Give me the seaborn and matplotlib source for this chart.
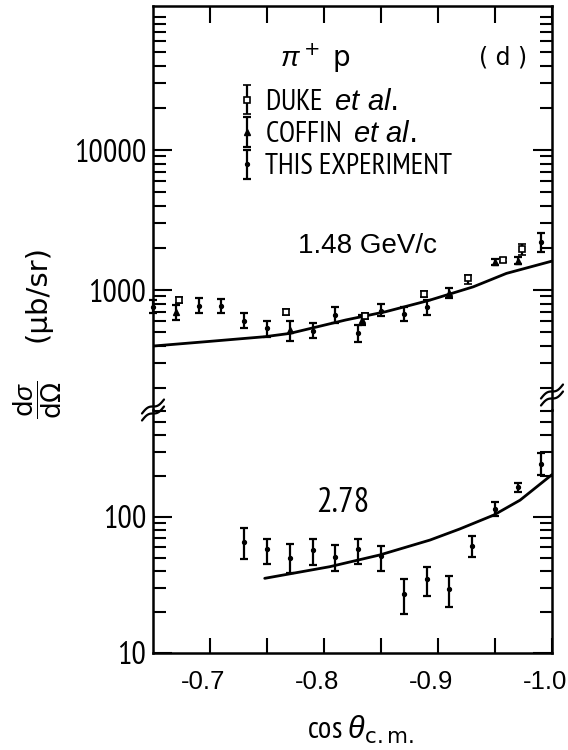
import numpy as np
import pandas as pd
import matplotlib
matplotlib.use("Agg")
import matplotlib.pyplot as plt
import matplotlib.transforms as mtransforms
import seaborn as sns
from matplotlib.lines import Line2D
from matplotlib.ticker import LogLocator, NullFormatter, FixedLocator
from matplotlib.font_manager import FontProperties

# ---- 1.48 GeV/c ----
cos_148_this = [-0.65, -0.69, -0.71, -0.73, -0.75, -0.79, -0.81, -0.83, -0.85, -0.87, -0.89, -0.99]
xs_148_this = [760, 772, 770, 604, 533, 512, 663, 493, 711, 674, 752, 2190]
lo_148_this = [685, 685, 685, 535, 464, 452, 578, 427, 650, 603, 663, 1885]
hi_148_this = [848, 877, 870, 685, 600, 578, 760, 563, 790, 752, 848, 2540]

cos_148_coffin = [-0.67, -0.77, -0.833, -0.91, -0.95, -0.97]
xs_148_coffin = [693, 518, 610, 947, 1590, 1620]
lo_148_coffin = [611, 432, 565, 872, 1510, 1540]
hi_148_coffin = [781, 600, 660, 1033, 1680, 1710]

cos_148_duke = [-0.673, -0.767, -0.836, -0.888, -0.926, -0.957, -0.974]
xs_148_duke = [848, 696, 650, 936, 1218, 1638, 1963]
lo_148_duke = [810, 660, 620, 890, 1100, 1580, 1780]
hi_148_duke = [890, 735, 680, 985, 1290, 1700, 2150]

cos_148_fit = [-0.65, -0.697, -0.748, -0.77, -0.819, -0.854, -0.892, -0.931, -0.96, -1.0]
xs_148_fit = [398, 428, 464, 490, 611, 700, 843, 1055, 1315, 1610]

# ---- 2.78 GeV/c ----
cos_278_this = [-0.73, -0.75, -0.77, -0.79, -0.81, -0.83, -0.85, -0.87, -0.89, -0.91, -0.93, -0.95, -0.97, -0.99]
xs_278_this = [65.8, 57.9, 50.2, 57.2, 50.6, 58.2, 52.0, 27.1, 34.8, 29.6, 61.2, 114.5, 165, 245]
lo_278_this = [49.1, 44.9, 38.5, 44.3, 40.1, 44.9, 40.1, 19.3, 26.4, 21.7, 50.6, 101.7, 152, 203]
hi_278_this = [82.6, 68.9, 63.3, 68.9, 62.3, 68.9, 61.5, 34.8, 42.7, 37.0, 72.5, 128, 179, 297]

cos_278_fit = [-0.748, -0.805, -0.849, -0.893, -0.919, -0.949, -0.972, -1.0]
xs_278_fit = [35.4, 43.1, 52.6, 67.7, 81.6, 103.4, 133, 205]

x_major = [-0.7, -0.8, -0.9, -1.0]
x_major_labels = ["-0.7", "-0.8", "-0.9", "-1.0"]
x_minor = [-0.75, -0.85, -0.95]
y_top_ticks = [1000, 10000]
y_top_labels = ["1000", "10000"]
y_bot_ticks = [10, 100]
y_bot_labels = ["10", "100"]
legend_labels = [r"DUKE  $et\ al.$", r"COFFIN  $et\ al.$", "THIS EXPERIMENT"]

NARROW = ["PT Sans Narrow", "DejaVu Sans"]

sns.set_style("ticks")
plt.rcParams["font.family"] = NARROW
plt.rcParams["mathtext.fontset"] = "custom"
plt.rcParams["mathtext.rm"] = "DejaVu Sans"
plt.rcParams["mathtext.it"] = "Liberation Sans:italic"
plt.rcParams["axes.linewidth"] = 1.8
for key in ("text.color", "axes.labelcolor", "xtick.color", "ytick.color", "axes.edgecolor"):
    plt.rcParams[key] = "black"

W, H = 568, 750


def fx(px):
    return px / W


def fy(py):
    return 1 - py / H


fig = plt.figure(figsize=(W / 100, H / 100), dpi=100)
ax_top = fig.add_axes([fx(153), fy(410), 399 / W, 404 / H])
ax_bot = fig.add_axes([fx(153), fy(653), 399 / W, 243 / H])

ebar_kw = dict(ls="none", color="black", ecolor="black", elinewidth=1.6,
               capsize=3.2, capthick=1.6, clip_on=False)


def draw_errors(ax, cos, val, lo, hi, **kw):
    val = np.asarray(val, float)
    yerr = np.vstack([val - np.asarray(lo, float), np.asarray(hi, float) - val])
    return ax.errorbar(cos, val, yerr=yerr, **ebar_kw, **kw)


# upper panel: 1.48 GeV/c
h_this = draw_errors(ax_top, cos_148_this, xs_148_this, lo_148_this, hi_148_this,
                     marker="o", ms=2.8)
h_coffin = draw_errors(ax_top, cos_148_coffin, xs_148_coffin, lo_148_coffin, hi_148_coffin,
                       marker="^", ms=4.5)
h_duke = draw_errors(ax_top, cos_148_duke, xs_148_duke, lo_148_duke, hi_148_duke,
                     marker="s", ms=4, mfc="white", mec="black", mew=1.2)
fit148 = pd.DataFrame({"cos": cos_148_fit, "xs": xs_148_fit})
sns.lineplot(data=fit148, x="cos", y="xs", ax=ax_top, color="black", lw=2, sort=False)

# lower panel: 2.78 GeV/c
draw_errors(ax_bot, cos_278_this, xs_278_this, lo_278_this, hi_278_this, marker="o", ms=2.8)
fit278 = pd.DataFrame({"cos": cos_278_fit, "xs": xs_278_fit})
sns.lineplot(data=fit278, x="cos", y="xs", ax=ax_bot, color="black", lw=2, sort=False)

for ax in (ax_top, ax_bot):
    ax.set_yscale("log")
    ax.set_xlim(-0.65, -1.0)
    ax.set_xlabel("")
    ax.set_ylabel("")
    ax.xaxis.set_major_locator(FixedLocator(x_major))
    ax.xaxis.set_minor_locator(FixedLocator(x_minor))
    ax.yaxis.set_minor_locator(LogLocator(base=10, subs=np.arange(2, 10)))
    ax.yaxis.set_minor_formatter(NullFormatter())
    ax.tick_params(axis="y", which="both", direction="in", left=True, right=True,
                   width=1.5, labelsize=23, pad=5)
    ax.tick_params(axis="y", which="major", length=14)
    ax.tick_params(axis="y", which="minor", length=9)

ax_top.set_ylim(139, 1.07e5)
ax_bot.set_ylim(10, 612)
ax_top.set_yticks(y_top_ticks, y_top_labels)
ax_bot.set_yticks(y_bot_ticks, y_bot_labels)
ax_top.spines["bottom"].set_visible(False)
ax_bot.spines["top"].set_visible(False)
ax_top.tick_params(axis="x", which="both", direction="in", top=True, bottom=False,
                   labeltop=False, labelbottom=False, length=12, width=1.5)
ax_bot.tick_params(axis="x", which="both", direction="in", top=False, bottom=True,
                   length=11, width=1.5, pad=12)
ax_bot.set_xticks(x_major, x_major_labels)
shift = mtransforms.ScaledTranslation(-7 / 100, 0, fig.dpi_scale_trans)
for lab in ax_bot.get_xticklabels():
    lab.set_fontfamily("Liberation Sans")
    lab.set_fontsize(18.5)
    lab.set_transform(lab.get_transform() + shift)

# axis break marks on both spines
for (cx, cy) in [(153, 410), (552, 395)]:
    for off in (-3.5, 3.5):
        t = np.linspace(-1, 1, 30)
        xs_b = cx + 11 * t
        ys_b = cy + off - 7 * t + 2.2 * np.sin(np.pi * t)
        fig.add_artist(Line2D([fx(v) for v in xs_b], [fy(v) for v in ys_b],
                              transform=fig.transFigure, color="black", lw=1.6))

# annotations
fig.text(fx(315), fy(58), r"$\pi^+$ p", fontsize=20, family="DejaVu Sans", ha="center", va="center")
fig.text(fx(503), fy(58), "( d )", fontsize=17, family="DejaVu Sans", ha="center", va="center")
fig.text(fx(367), fy(246), "1.48 GeV/c", fontsize=20, family="Liberation Sans", ha="center", va="center")
fig.text(fx(343), fy(503), "2.78", fontsize=25, ha="center", va="center")

leg = ax_top.legend([h_duke, h_coffin, h_this], legend_labels, loc="upper left",
                    bbox_to_anchor=(fx(240), fy(89)), bbox_transform=fig.transFigure,
                    frameon=False, handlelength=0.5, handletextpad=0.35, labelspacing=0.18,
                    borderpad=0, borderaxespad=0,
                    prop=FontProperties(family=NARROW, size=21))

# axis titles
fig.text(fx(38), fy(293), "(μb/sr)", rotation=90, fontsize=21, family="DejaVu Sans",
         ha="center", va="center")
fig.text(fx(38), fy(400), r"$\dfrac{\mathrm{d}\sigma}{\mathrm{d}\Omega}$", rotation=90,
         fontsize=19, ha="center", va="center")
fig.text(fx(360), fy(730), r"cos $\theta_{\rm c.m.}$", fontsize=22, ha="center", va="center")

fig.savefig("out.png", dpi=100)
